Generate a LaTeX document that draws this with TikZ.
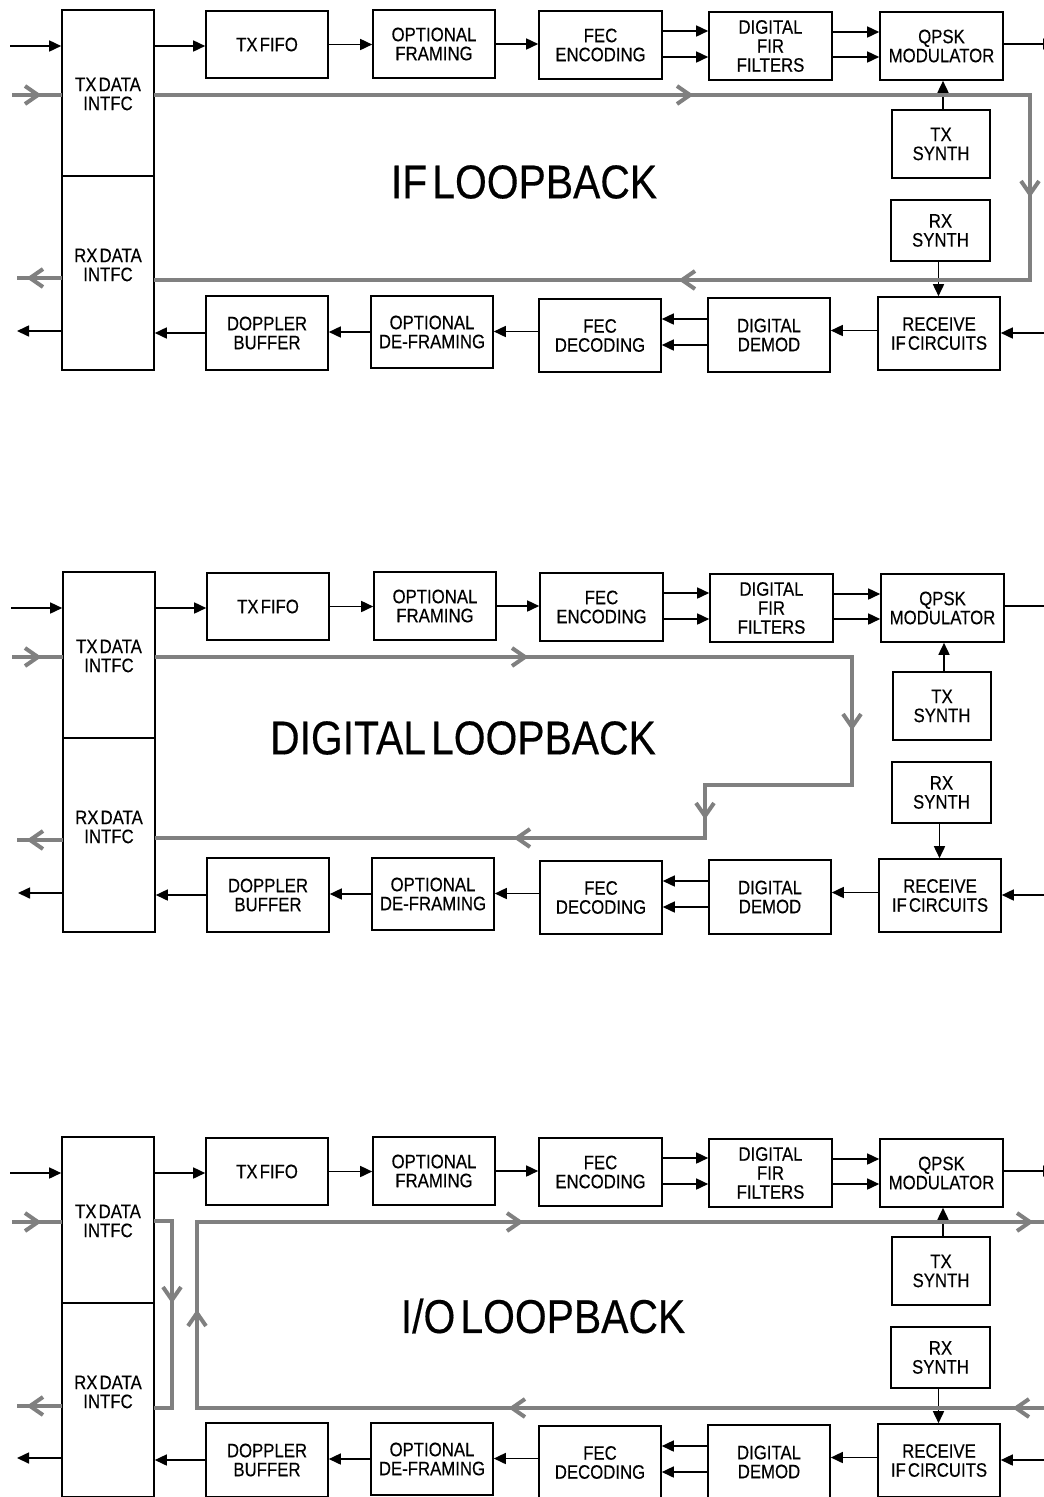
\documentclass[tikz,border=0pt]{standalone}
\usepackage{fontspec}
\setmainfont{Liberation Sans}[FakeStretch=0.86,WordSpace=0.45,FakeBold=0.35]
\usetikzlibrary{arrows.meta,calc}
\definecolor{loopgray}{RGB}{128,128,128}
\tikzset{
 blk/.style={draw, line width=1.6pt, inner sep=0pt, align=center, font=\fontsize{19.5pt}{19pt}\selectfont},
 lbl/.style={inner sep=0pt, align=center, font=\fontsize{19.5pt}{19pt}\selectfont},
 big/.style={inner sep=0pt, font=\fontsize{47.5pt}{47.5pt}\selectfont},
 arr/.style={line width=1.6pt, -{Triangle[length=12pt,width=11pt]}},
 gl/.style={draw=loopgray, line width=4pt},
 chev/.pic={\draw[gl, line cap=butt] (-13,-9) -- (0,0) -- (-13,9);}
}
\newcommand\bx[6]{\node[blk, minimum width={#4pt-#2pt}, minimum height={#5pt-#3pt}] (#1) at ({(#2+#4)/2},{(#3+#5)/2}) {#6};}
\newcommand\drawpanel[1]{%
 \bx{#1txd}{62}{10}{154}{176}{}
 \bx{#1rxd}{62}{176}{154}{370}{}
 \node[lbl] (#1txdl) at (108,94) {TX DATA\\INTFC};
 \node[lbl] (#1rxdl) at (108,265) {RX DATA\\INTFC};
 \bx{#1fifo}{206}{11}{328}{78}{TX FIFO}
 \bx{#1ofr}{373}{10}{495}{78}{OPTIONAL\\FRAMING}
 \bx{#1fenc}{539}{11}{662}{79}{FEC\\ENCODING}
 \bx{#1fir}{709}{12}{832}{80}{DIGITAL\\FIR\\FILTERS}
 \bx{#1qpsk}{880}{12}{1003}{80}{QPSK\\MODULATOR}
 \bx{#1txs}{892}{110}{990}{178}{TX\\SYNTH}
 \bx{#1rxs}{891}{200}{990}{261}{RX\\SYNTH}
 \bx{#1rcv}{878}{297}{1000}{370}{RECEIVE\\IF CIRCUITS}
 \bx{#1dem}{708}{298}{830}{372}{DIGITAL\\DEMOD}
 \bx{#1fdec}{539}{299}{661}{372}{FEC\\DECODING}
 \bx{#1odf}{371}{296}{493}{368}{OPTIONAL\\DE-FRAMING}
 \bx{#1dop}{206}{296}{328}{370}{DOPPLER\\BUFFER}
 \coordinate (#1tin) at (10,46);
 \coordinate (#1qout) at (1055,44);
 \coordinate (#1rin) at (1050,333);
 \coordinate (#1rout) at (17,331);
 \draw[arr] (#1tin) -- (#1tin -| #1txd.west);
 \draw[arr] (#1txd.east |- #1tin) -- (#1tin -| #1fifo.west);
 \draw[arr] (#1fifo.east) -- (#1fifo.east -| #1ofr.west);
 \draw[arr] (#1ofr.east) -- (#1ofr.east -| #1fenc.west);
 \draw[arr] ([yshift=14pt]#1fenc.east) -- ([yshift=14pt]#1fenc.east -| #1fir.west);
 \draw[arr] ([yshift=-12pt]#1fenc.east) -- ([yshift=-12pt]#1fenc.east -| #1fir.west);
 \draw[arr] ([yshift=14pt]#1fir.east) -- ([yshift=14pt]#1fir.east -| #1qpsk.west);
 \draw[arr] ([yshift=-11pt]#1fir.east) -- ([yshift=-11pt]#1fir.east -| #1qpsk.west);
 \draw[arr] (#1qpsk.east |- #1qout) -- (#1qout);
 \draw[arr] ([xshift=2pt]#1txs.north) -- ([xshift=2pt]#1txs.north |- #1qpsk.south);
 \draw[arr] ([xshift=-2pt]#1rxs.south) -- ([xshift=-2pt]#1rxs.south |- #1rcv.north);
 \draw[arr] (#1rin) -- (#1rin -| #1rcv.east);
 \draw[arr] ([yshift=3pt]#1rcv.west) -- ([yshift=3pt]#1rcv.west -| #1dem.east);
 \draw[arr] ([yshift=16pt]#1dem.west) -- ([yshift=16pt]#1dem.west -| #1fdec.east);
 \draw[arr] ([yshift=-10pt]#1dem.west) -- ([yshift=-10pt]#1dem.west -| #1fdec.east);
 \draw[arr] ([yshift=4pt]#1fdec.west) -- ([yshift=4pt]#1fdec.west -| #1odf.east);
 \draw[arr] (#1odf.west) -- (#1odf.west -| #1dop.east);
 \draw[arr] (#1dop.west) -- (#1dop.west -| #1rxd.east);
 \draw[arr] (#1rout -| #1rxd.west) -- (#1rout);
}
\begin{document}
\begin{tikzpicture}[x=1pt,y=-1pt]
\useasboundingbox (0,0) rectangle (1044,1497);
\clip (0,0) rectangle (1044,1497);
% panel 1
\drawpanel{a}
\node[big] (lab1) at (524,182) {IF LOOPBACK};
\draw[gl] (12,95) -- (62,95);
\draw[gl] (154,95) -- (1030,95) -- (1030,280) -- (154,280);
\draw[gl] (62,278) -- (17,278);
\pic at (38,95) {chev};
\pic at (690,95) {chev};
\pic[rotate=-90] at (1030,194) {chev};
\pic[rotate=180] at (682,280) {chev};
\pic[rotate=180] at (30,278) {chev};
% panel 2
\begin{scope}[yshift=-562pt, xshift=1pt]
\drawpanel{b}
\end{scope}
\node[big] (lab2) at (463,738) {DIGITAL LOOPBACK};
\draw[gl] (12,657) -- (63,657);
\draw[gl] (155,657) -- (852,657) -- (852,785) -- (705,785) -- (705,838) -- (155,838);
\draw[gl] (63,840) -- (17,840);
\pic at (38,657) {chev};
\pic at (525,657) {chev};
\pic[rotate=-90] at (852,727) {chev};
\pic[rotate=-90] at (705,816) {chev};
\pic[rotate=180] at (517,838) {chev};
\pic[rotate=180] at (30,840) {chev};
% panel 3
\begin{scope}[yshift=-1127pt]
\drawpanel{c}
\end{scope}
\node[big] (lab3) at (543,1316) {I/O LOOPBACK};
\draw[gl] (12,1222) -- (62,1222);
\draw[gl] (154,1221) -- (172,1221) -- (172,1408) -- (154,1408);
\draw[gl] (62,1406) -- (17,1406);
\draw[gl] (1050,1408) -- (197,1408) -- (197,1222) -- (1050,1222);
\pic at (38,1222) {chev};
\pic[rotate=-90] at (172,1300) {chev};
\pic[rotate=180] at (30,1406) {chev};
\pic[rotate=90] at (197,1313) {chev};
\pic at (520,1222) {chev};
\pic at (1030,1222) {chev};
\pic[rotate=180] at (512,1408) {chev};
\pic[rotate=180] at (1016,1408) {chev};
\end{tikzpicture}
\end{document}
